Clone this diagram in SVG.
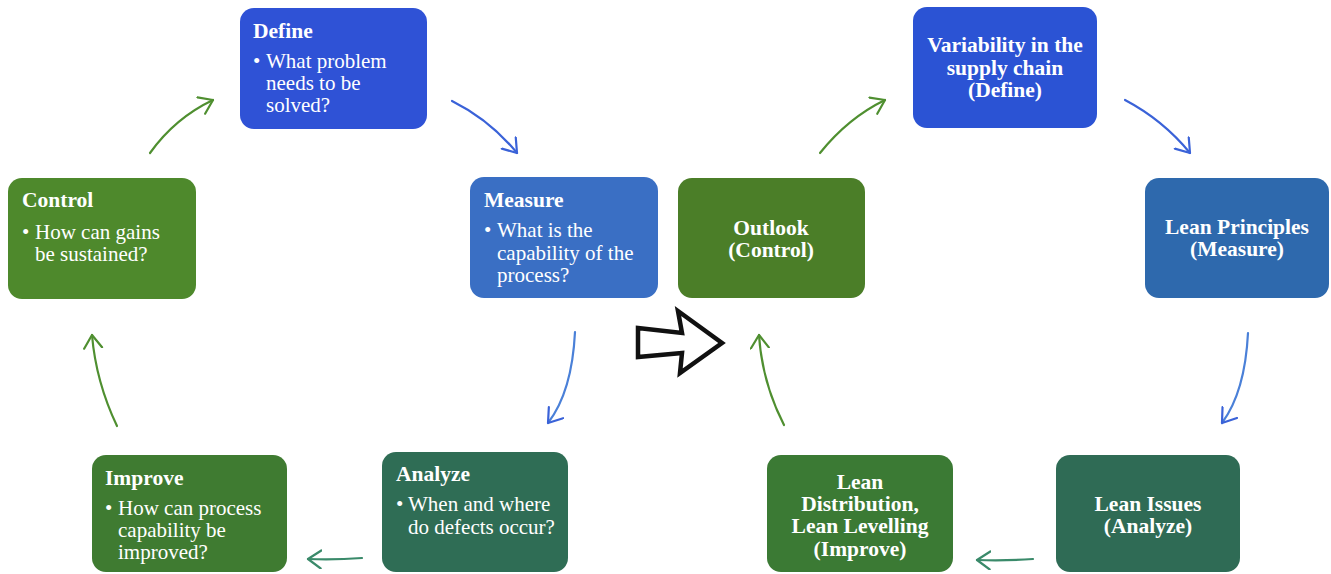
<svg xmlns="http://www.w3.org/2000/svg" width="1331" height="574" viewBox="0 0 1331 574">
<style>
.t{font-family:"Liberation Serif","Times New Roman",serif;font-size:21px;fill:#fff}
.b{font-weight:bold;font-size:21.5px}
.c{text-anchor:middle;font-weight:bold;font-size:21.5px}
.ln{fill:none;stroke-width:2.2;stroke-linecap:round}
</style>
<defs>
<marker id="mb" markerUnits="userSpaceOnUse" markerWidth="24" markerHeight="24" refX="14" refY="10" orient="auto"><path d="M1,1 L14,10 L1,19" fill="none" stroke="#3a62d8" stroke-width="2.2" stroke-linecap="round" stroke-linejoin="round"/></marker>
<marker id="mg" markerUnits="userSpaceOnUse" markerWidth="24" markerHeight="24" refX="14" refY="10" orient="auto"><path d="M1,1 L14,10 L1,19" fill="none" stroke="#4f8f30" stroke-width="2.2" stroke-linecap="round" stroke-linejoin="round"/></marker>
<marker id="mt" markerUnits="userSpaceOnUse" markerWidth="24" markerHeight="24" refX="14" refY="10" orient="auto"><path d="M1,1 L14,10 L1,19" fill="none" stroke="#3a8a6a" stroke-width="2.2" stroke-linecap="round" stroke-linejoin="round"/></marker>
</defs>
<rect width="1331" height="574" fill="#fff"/>
<g id="connectors">
<path class="ln" stroke="#4f8f30" marker-end="url(#mg)" d="M150,153 Q175,118 213,100"/>
<path class="ln" stroke="#3a62d8" marker-end="url(#mb)" d="M452,101 Q490,120 517,153"/>
<path class="ln" stroke="#4a80d8" marker-end="url(#mb)" d="M575,332 Q572,392 548,423"/>
<path class="ln" stroke="#3a8a6a" marker-end="url(#mt)" d="M362,558 Q335,560 308,559"/>
<path class="ln" stroke="#4f8f30" marker-end="url(#mg)" d="M117,426 Q96,382 92,335"/>
<path class="ln" stroke="#4f8f30" marker-end="url(#mg)" d="M820,153 Q848,118 885,100"/>
<path class="ln" stroke="#3a62d8" marker-end="url(#mb)" d="M1125,100 Q1163,120 1190,153"/>
<path class="ln" stroke="#4a80d8" marker-end="url(#mb)" d="M1248,333 Q1245,392 1222,423"/>
<path class="ln" stroke="#3a8a6a" marker-end="url(#mt)" d="M1033,559 Q1005,561 977,560"/>
<path class="ln" stroke="#4f8f30" marker-end="url(#mg)" d="M784,425 Q762,382 759,335"/>
<path d="M638,328 L682,333 L678,311 L722,343 L680,373 L682,353 L638,357 Z" fill="#fff" stroke="#111" stroke-width="4.5" stroke-linejoin="miter"/>
</g>
<g id="define">
<rect x="240" y="8" width="187" height="121" rx="14" fill="#2f52d6"/>
<text class="t b" x="253" y="38">Define</text>
<text class="t" x="253" y="68">•</text>
<text class="t" x="266" y="68">What problem</text>
<text class="t" x="266" y="90">needs to be</text>
<text class="t" x="266" y="112">solved?</text>
</g>
<g id="control">
<rect x="8" y="178" width="188" height="121" rx="14" fill="#4e892c"/>
<text class="t b" x="22" y="207">Control</text>
<text class="t" x="22" y="239">•</text>
<text class="t" x="35" y="239">How can gains</text>
<text class="t" x="35" y="261">be sustained?</text>
</g>
<g id="measure">
<rect x="470" y="177" width="188" height="121" rx="14" fill="#3a6fc4"/>
<text class="t b" x="484" y="207">Measure</text>
<text class="t" x="484" y="237">•</text>
<text class="t" x="497" y="237">What is the</text>
<text class="t" x="497" y="260">capability of the</text>
<text class="t" x="497" y="282">process?</text>
</g>
<g id="analyze">
<rect x="382" y="452" width="186" height="120" rx="14" fill="#2f6d55"/>
<text class="t b" x="396" y="481">Analyze</text>
<text class="t" x="396" y="511">•</text>
<text class="t" x="408" y="511">When and where</text>
<text class="t" x="408" y="534">do defects occur?</text>
</g>
<g id="improve">
<rect x="92" y="455" width="195" height="117" rx="14" fill="#3f7b31"/>
<text class="t b" x="105" y="485">Improve</text>
<text class="t" x="105" y="515">•</text>
<text class="t" x="118" y="515">How can process</text>
<text class="t" x="118" y="537">capability be</text>
<text class="t" x="118" y="559">improved?</text>
</g>
<g id="outlook">
<rect x="678" y="178" width="187" height="120" rx="14" fill="#4b7e28"/>
<text class="t c" x="771" y="235">Outlook</text>
<text class="t c" x="771" y="257">(Control)</text>
</g>
<g id="variability">
<rect x="913" y="7" width="184" height="121" rx="14" fill="#2b53d4"/>
<text class="t c" x="1005" y="52">Variability in the</text>
<text class="t c" x="1005" y="75">supply chain</text>
<text class="t c" x="1005" y="97">(Define)</text>
</g>
<g id="lean-principles">
<rect x="1145" y="178" width="184" height="120" rx="14" fill="#2e69ad"/>
<text class="t c" x="1237" y="234">Lean Principles</text>
<text class="t c" x="1237" y="256">(Measure)</text>
</g>
<g id="lean-issues">
<rect x="1056" y="455" width="184" height="117" rx="14" fill="#2f6b55"/>
<text class="t c" x="1148" y="511">Lean Issues</text>
<text class="t c" x="1148" y="533">(Analyze)</text>
</g>
<g id="lean-distribution">
<rect x="767" y="455" width="186" height="117" rx="14" fill="#3b7a34"/>
<text class="t c" x="860" y="489">Lean</text>
<text class="t c" x="860" y="511">Distribution,</text>
<text class="t c" x="860" y="533">Lean Levelling</text>
<text class="t c" x="860" y="556">(Improve)</text>
</g>
</svg>
